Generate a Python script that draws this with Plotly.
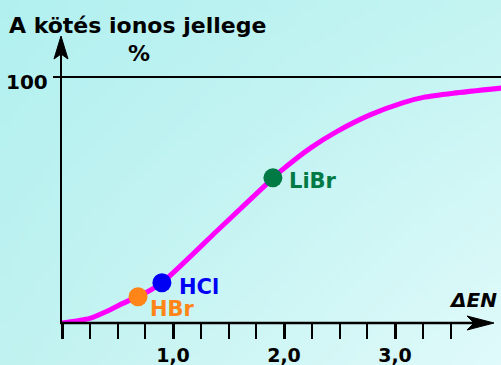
import base64, struct, zlib
import plotly.graph_objects as go

# ---- data ----
curve_x = [0.0, 0.25, 0.43, 0.5, 0.61, 0.685, 0.9, 1.4, 1.9, 1.964, 2.234, 2.475, 2.775, 3.075, 3.255, 3.525, 3.96]
curve_y = [0.0, 1.9, 5.3, 6.9, 9.3, 10.7, 16.4, 37.6, 58.9, 61.5, 71.0, 77.8, 84.6, 89.6, 91.7, 93.4, 95.5]

compounds = ["HBr", "HCl", "LiBr"]
compound_x = [0.685, 0.9, 1.9]
compound_y = [10.7, 16.4, 59.0]
compound_colors = ["#ff8519", "#0000f5", "#007a45"]

x_tick_vals = [0, 1, 2, 3]
x_tick_text = ["", "1,0", "2,0", "3,0"]
x_minor_vals = [0.25, 0.5, 0.75, 1.25, 1.5, 1.75, 2.25, 2.5, 2.75, 3.25, 3.5]
y_tick_vals = [100]
y_tick_text = ["100"]

title_text = "A kötés ionos jellege"
unit_text = "%"
x_axis_title = "<i>ΔEN</i>"

# ---- geometry (pixels) ----
W, H = 501, 365
L, R, T, B = 62, 0, 37, 42
PW, PH = W - L - R, H - T - B
PX_PER_X = 111.0
PX_PER_Y = 2.46
XMAX = PW / PX_PER_X
YMAX = PH / PX_PER_Y


def px(xp):
    return (xp - L) / PW


def py(yp):
    return (H - B - yp) / PH


# ---- background gradient png ----
def gradient_png(w, h):
    tl, tr, bl, br = (178, 240, 240), (196, 244, 242), (192, 242, 240), (224, 250, 250)
    rows = []
    for j in range(h):
        v = j / (h - 1)
        row = bytearray([0])
        for i in range(w):
            u = i / (w - 1)
            for c in range(3):
                top = tl[c] * (1 - u) + tr[c] * u
                bot = bl[c] * (1 - u) + br[c] * u
                row.append(int(round(top * (1 - v) + bot * v)))
        rows.append(bytes(row))
    raw = b"".join(rows)

    def chunk(tag, data):
        return struct.pack(">I", len(data)) + tag + data + struct.pack(">I", zlib.crc32(tag + data) & 0xffffffff)

    png = b"\x89PNG\r\n\x1a\n" + chunk(b"IHDR", struct.pack(">IIBBBBB", w, h, 8, 2, 0, 0, 0)) \
        + chunk(b"IDAT", zlib.compress(raw, 9)) + chunk(b"IEND", b"")
    return "data:image/png;base64," + base64.b64encode(png).decode()


FONT = "DejaVu Sans"

fig = go.Figure()
fig.add_trace(go.Scatter(x=curve_x, y=curve_y, mode="lines", line=dict(color="#ff00ff", width=5, shape="spline", smoothing=0.6),
                         hoverinfo="skip", showlegend=False, cliponaxis=False))
fig.add_trace(go.Scatter(x=compound_x, y=compound_y, mode="markers",
                         marker=dict(size=19, color=compound_colors, line=dict(width=0)),
                         hoverinfo="skip", showlegend=False, cliponaxis=False))

label_shift = {"HBr": (10, -12), "HCl": (15, -4), "LiBr": (14, -3)}
for name, xv, yv, col in zip(compounds, compound_x, compound_y, compound_colors):
    dx, dy = label_shift[name]
    fig.add_annotation(x=xv, y=yv, text=f"<b>{name}</b>", showarrow=False, xanchor="left", yanchor="middle",
                       xshift=dx, yshift=dy, font=dict(family=FONT, size=21, color=col))

# axes lines and arrows (pixel geometry in paper coords)
shapes = [
    dict(type="line", xref="paper", yref="paper", x0=px(61), y0=py(324), x1=px(61), y1=py(45),
         line=dict(color="black", width=2)),
    dict(type="line", xref="paper", yref="paper", x0=px(60), y0=py(323), x1=px(485), y1=py(323),
         line=dict(color="black", width=2.5)),
    dict(type="path", xref="paper", yref="paper", fillcolor="black", line=dict(color="black", width=1),
         path=f"M {px(61)} {py(36)} L {px(54)} {py(59)} L {px(61)} {py(54)} L {px(68)} {py(59)} Z"),
    dict(type="path", xref="paper", yref="paper", fillcolor="black", line=dict(color="black", width=1),
         path=f"M {px(494)} {py(323)} L {px(467)} {py(316)} L {px(474)} {py(323)} L {px(467)} {py(330)} Z"),
]

annotations = [
    dict(xref="paper", yref="paper", x=px(7), y=py(26), text=f"<b>{title_text}</b>", showarrow=False,
         xanchor="left", yanchor="middle", font=dict(family=FONT, size=22, color="black")),
    dict(xref="paper", yref="paper", x=px(139), y=py(53), text=f"<b>{unit_text}</b>", showarrow=False,
         xanchor="center", yanchor="middle", font=dict(family=FONT, size=22, color="black")),
    dict(xref="paper", yref="paper", x=px(499), y=py(300), text=f"<b>{x_axis_title}</b>", showarrow=False,
         xanchor="right", yanchor="middle", font=dict(family=FONT, size=20, color="black")),
]
for v, t in zip(y_tick_vals, y_tick_text):
    annotations.append(dict(xref="paper", yref="y", x=px(50), y=v, yshift=-5, text=f"<b>{t}</b>", showarrow=False,
                            xanchor="right", yanchor="middle", font=dict(family=FONT, size=20, color="black")))
for a in annotations:
    fig.add_annotation(**a)

fig.update_layout(
    width=W, height=H,
    margin=dict(l=L, r=R, t=T, b=B, pad=0),
    paper_bgcolor="#c8f4f2",
    plot_bgcolor="rgba(0,0,0,0)",
    shapes=shapes,
    images=[dict(source=gradient_png(64, 48), xref="paper", yref="paper", x=px(0), y=py(0),
                 sizex=W / PW, sizey=H / PH, xanchor="left", yanchor="top", sizing="stretch", layer="below")],
    xaxis=dict(range=[0, XMAX], showgrid=False, zeroline=False, showline=False,
               tickmode="array", tickvals=x_tick_vals, ticktext=[f"<b>{t}</b>" if t else "" for t in x_tick_text],
               ticks="outside", ticklen=15, tickwidth=3, tickcolor="black",
               tickfont=dict(family=FONT, size=19, color="black"),
               minor=dict(tickmode="array", tickvals=x_minor_vals, ticks="outside", ticklen=15, tickwidth=1.5,
                          tickcolor="black", showgrid=False),
               fixedrange=True),
    yaxis=dict(range=[0, YMAX], zeroline=False, showline=False, tickmode="array", tickvals=y_tick_vals,
               ticktext=[""], showticklabels=False, ticks="outside", ticklen=8, tickwidth=2, tickcolor="black",
               showgrid=True, gridcolor="black", gridwidth=2, fixedrange=True),
    showlegend=False,
)

fig.write_html("out.html", config={"displayModeBar": False},
               post_script="document.body.style.margin='0';document.body.style.overflow='hidden';")
